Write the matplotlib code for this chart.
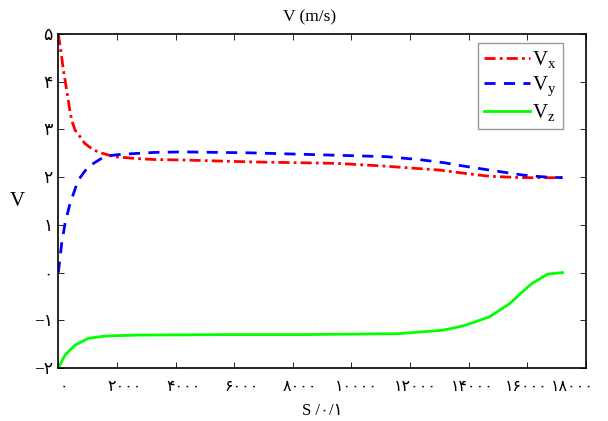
import numpy as np
import matplotlib
matplotlib.use("Agg")
import matplotlib.pyplot as plt
from matplotlib.transforms import ScaledTranslation

plt.rcParams['font.family'] = ['Liberation Serif', 'DejaVu Sans']
plt.rcParams['mathtext.fontset'] = 'stix'

# ---------------------
# DATA
# ---------------------
vx_s = [0, 115, 170, 230, 320, 400, 455, 570, 740, 900, 1135, 1350, 1900, 2700,
        3300, 4300, 6600, 9500, 11200, 12300, 13000, 14000, 14700, 15800, 16700, 17200]
vx = [5.0, 4.52, 4.25, 4.04, 3.69, 3.38, 3.2, 2.99, 2.85, 2.71, 2.60, 2.53, 2.43, 2.39,
      2.37, 2.36, 2.32, 2.29, 2.23, 2.18, 2.15, 2.07, 2.02, 1.99, 1.99, 1.99]

vy_s = [0, 115, 230, 400, 680, 1020, 1590, 2150, 3300, 4300, 6600, 9500, 11200,
        12300, 13200, 13550, 14700, 15900, 16700, 17200]
vy = [0.0, 0.61, 1.03, 1.45, 1.94, 2.22, 2.44, 2.48, 2.52, 2.53, 2.51, 2.46, 2.43,
      2.37, 2.30, 2.26, 2.15, 2.04, 2.0, 1.99]

vz_s = [0, 230, 570, 1020, 1590, 2700, 5600, 8400, 11600, 13100, 13500, 13900,
        14700, 15400, 15800, 16150, 16700, 17200]
vz = [-2.0, -1.73, -1.52, -1.38, -1.33, -1.31, -1.30, -1.30, -1.28, -1.21, -1.16,
      -1.10, -0.93, -0.65, -0.42, -0.23, -0.03, 0.0]

xticks = [0, 2000, 4000, 6000, 8000, 10000, 12000, 14000, 16000, 18000]
xticklabels = ['۰', '۲۰۰۰', '۴۰۰۰', '۶۰۰۰', '۸۰۰۰', '۱۰۰۰۰', '۱۲۰۰۰',
               '۱۴۰۰۰', '۱۶۰۰۰', '۱۸۰۰۰']
yticks = [-2, -1, 0, 1, 2, 3, 4, 5]
yticklabels = ['−۲', '−۱', '۰', '۱', '۲', '۳', '۴', '۵']

# ---------------------
# PLOT
# ---------------------
fig = plt.figure(figsize=(6.08, 4.21), dpi=100)
ax = fig.add_axes([0.0959, 0.1259, 0.8679, 0.7931])

ax.plot(vx_s, vx, color='#ff0000', lw=2, ls=(0, (4, 1.5, 1, 1.5)), label='$\\mathregular{V_x}$')
ax.plot(vy_s, vy, color='#0000ff', lw=2, ls=(0, (4, 3)), label='$\\mathregular{V_y}$')
ax.plot(vz_s, vz, color='#00ff00', lw=2, ls='-', label='$\\mathregular{V_z}$')

ax.set_xlim(0, 18000)
ax.set_ylim(-2, 5)
ax.set_xticks(xticks)
ax.set_xticklabels(xticklabels, fontsize=11.5)
ax.set_yticks(yticks)
ax.set_yticklabels(yticklabels, fontsize=12.5)
ax.tick_params(direction='in', top=True, right=True, length=4, width=0.6)
ax.tick_params(axis='x', pad=8)
ax.tick_params(axis='y', pad=4)
for sp in ax.spines.values():
    sp.set_linewidth(1.2)

# label nudges in pixels, as in the picture
nudges = [6, 8, 8, 7, 7, 5, 5, 4, -1, -14]
for lab, dx in zip(ax.get_xticklabels(), nudges):
    lab.set_transform(lab.get_transform() + ScaledTranslation(dx / 100, 0, fig.dpi_scale_trans))

ax.set_title('V (m/s)', fontsize=12.5, pad=9, x=0.477)
ax.set_xlabel('S /۰/۱', fontsize=12, labelpad=6)
ax.set_ylabel('V', fontsize=15, rotation=0, labelpad=12, va='center')

leg = ax.legend(loc='upper right', bbox_to_anchor=(0.956, 0.973), borderaxespad=0,
                fontsize=15, frameon=True, fancybox=False, edgecolor='#808080',
                handlelength=2.2, handletextpad=0.1, labelspacing=0.2,
                borderpad=0.3)
leg.get_frame().set_linewidth(1.0)

fig.savefig('out.png', dpi=100)
